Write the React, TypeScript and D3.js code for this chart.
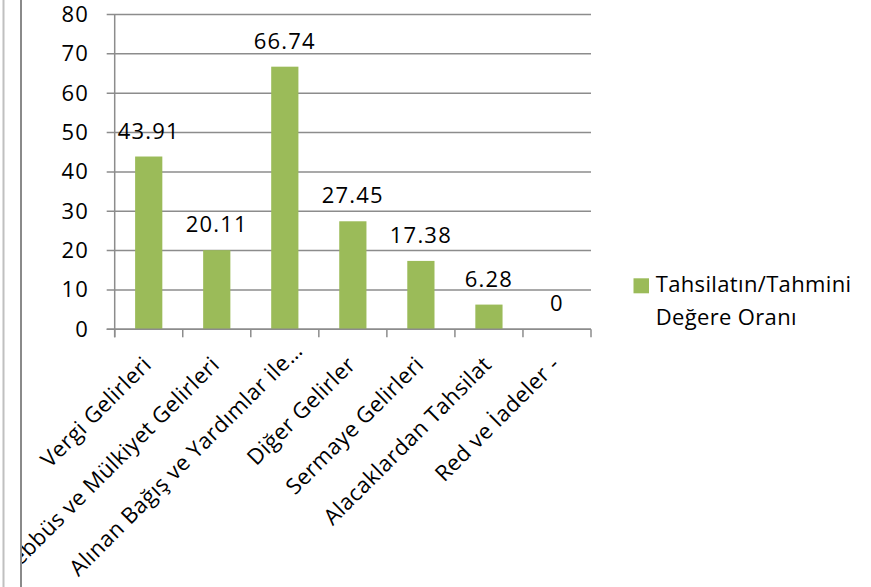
import React from "react";
import * as d3 from "d3";

const categories = [
  "Vergi Gelirleri",
  "Teşebbüs ve Mülkiyet Gelirleri",
  "Alınan Bağış ve Yardımlar ile…",
  "Diğer Gelirler",
  "Sermaye Gelirleri",
  "Alacaklardan Tahsilat",
  "Red ve İadeler -",
];
const values = [43.91, 20.11, 66.74, 27.45, 17.38, 6.28, 0];
const valueLabels = ["43.91", "20.11", "66.74", "27.45", "17.38", "6.28", "0"];
const yTicks = [0, 10, 20, 30, 40, 50, 60, 70, 80];
const legendLines = ["Tahsilatın/Tahmini", "Değere Oranı"];

const W = 871;
const H = 587;
const FONT = "'Open Sans', sans-serif";
const GREEN = "#9BBB59";
const GRID = "#8c8c8c";

export default function App() {
  const x = d3
    .scaleBand<string>()
    .domain(categories)
    .range([114.7, 591])
    .paddingInner(0.6)
    .paddingOuter(0.3);
  const y = d3.scaleLinear().domain([0, 80]).range([329.3, 14.5]);
  const step = x.step();
  const left = 114.7;
  const right = 591;
  const boundaries = d3.range(categories.length + 1).map((i) => left + i * step);

  return (
    <svg
      width={W}
      height={H}
      style={{ position: "absolute", left: 0, top: 0, background: "#fff" }}
      fontFamily={FONT}
    >
      <defs>
        <clipPath id="clipInner">
          <rect x={22} y={0} width={W} height={H} />
        </clipPath>
      </defs>
      <rect x={0} y={0} width={W} height={H} fill="#fff" />
      {/* frame lines on the left */}
      <line x1={3.5} x2={3.5} y1={0} y2={H} stroke="#c0c0c0" strokeWidth={2} />
      <line x1={21} x2={21} y1={0} y2={H} stroke="#8a8a8a" strokeWidth={2} />

      {/* gridlines */}
      {yTicks.map((t) => (
        <line
          key={"g" + t}
          x1={106.7}
          x2={right}
          y1={y(t)}
          y2={y(t)}
          stroke={GRID}
          strokeWidth={1.5}
        />
      ))}
      {/* y axis */}
      <line x1={left} x2={left} y1={y(80)} y2={y(0) + 8} stroke={GRID} strokeWidth={1.5} />
      {/* x tick marks */}
      {boundaries.map((b, i) => (
        <line key={"t" + i} x1={b} x2={b} y1={y(0)} y2={y(0) + 8} stroke={GRID} strokeWidth={1.5} />
      ))}

      {/* bars */}
      {categories.map((c, i) => (
        <rect
          key={"b" + c}
          x={x(c)}
          y={y(values[i])}
          width={x.bandwidth()}
          height={y(0) - y(values[i])}
          fill={GREEN}
        />
      ))}
      {/* axis line on top of bars */}
      <line x1={106.7} x2={right} y1={y(0)} y2={y(0)} stroke={GRID} strokeWidth={1.5} />

      {/* value labels */}
      {categories.map((c, i) => (
        <text
          key={"v" + c}
          x={(x(c) as number) + x.bandwidth() / 2}
          y={y(values[i]) - 18}
          textAnchor="middle"
          fontSize={22}
          letterSpacing={1.2}
          fill="#000"
        >
          {valueLabels[i]}
        </text>
      ))}

      {/* y tick labels */}
      {yTicks.map((t) => (
        <text
          key={"yl" + t}
          x={89}
          y={y(t) + 7.5}
          textAnchor="end"
          fontSize={22}
          letterSpacing={1.2}
          fill="#000"
        >
          {t}
        </text>
      ))}

      {/* category labels */}
      <g clipPath="url(#clipInner)">
        {categories.map((c, i) => {
          const cx = (x(c) as number) + x.bandwidth() / 2;
          const truncated = c.endsWith("…");
          const ax = cx + (truncated ? 19 : 4);
          const ay = truncated ? 352 : 366;
          return (
            <text
              key={"c" + c}
              transform={`translate(${ax},${ay}) rotate(-45)`}
              textAnchor="end"
              fontSize={22}
              letterSpacing={0.45}
              fill="#000"
            >
              {c}
            </text>
          );
        })}
      </g>

      {/* legend */}
      <rect x={633.5} y={278.3} width={15.5} height={15} fill={GREEN} />
      {legendLines.map((l, i) => (
        <text
          key={"lg" + i}
          x={655.7}
          y={292.3 + i * 32.7}
          fontSize={22}
          letterSpacing={0.35}
          fill="#000"
        >
          {l}
        </text>
      ))}
    </svg>
  );
}
